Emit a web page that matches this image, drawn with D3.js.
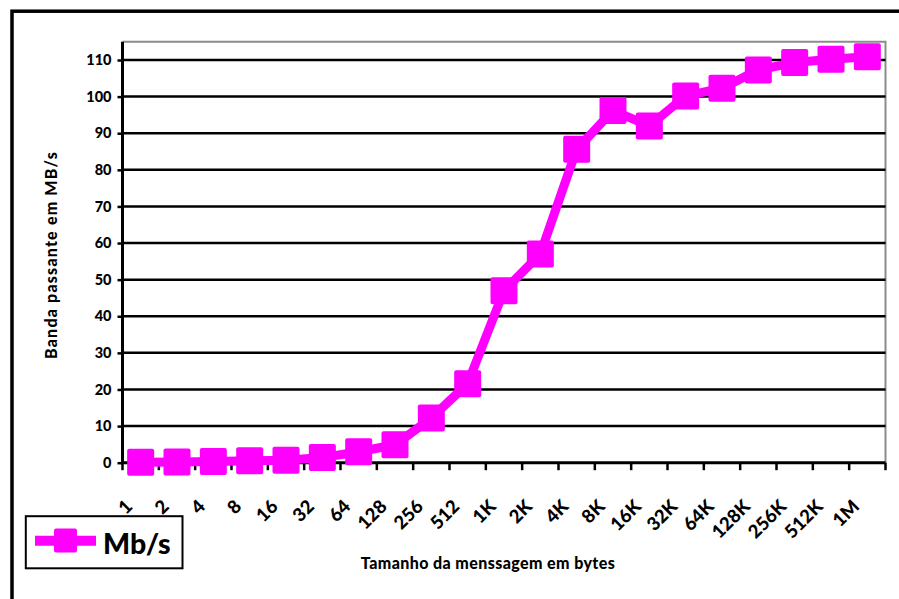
<!DOCTYPE html>
<html>
<head>
<meta charset="utf-8">
<script src="https://cdn.jsdelivr.net/npm/d3@7"></script>
<style>
    body { margin: 0; background: #fff; }
    svg { display: block; font-family: Lato, "Open Sans", sans-serif; font-weight: 900; }
</style>
</head>
<body>
<div id="chart"></div>
<script>
// Message sizes (categories) and measured bandwidth
const sizes = ['1', '2', '4', '8', '16', '32', '64', '128', '256', '512',
    '1K', '2K', '4K', '8K', '16K', '32K', '64K', '128K', '256K', '512K', '1M'];
const mbps = [0.1, 0.2, 0.3, 0.5, 0.7, 1.4, 3.0, 4.9, 12.2, 21.6,
    47.0, 57.0, 85.6, 96.2, 92.0, 100.2, 102.3, 107.3, 109.3, 110.2, 110.9];
const yTicks = [0, 10, 20, 30, 40, 50, 60, 70, 80, 90, 100, 110];
const seriesName = 'Mb/s';

const W = 899, H = 599;
const plot = { left: 122.5, right: 885.5, top: 41.7, bottom: 462.7 };
const magenta = '#ff00ff';

const svg = d3.select('#chart').append('svg')
    .attr('width', W)
    .attr('height', H);

// outer frame (cut off at right and bottom)
svg.append('rect')
    .attr('x', 12).attr('y', 11.2)
    .attr('width', W).attr('height', H)
    .attr('fill', 'none')
    .attr('stroke', '#000')
    .attr('stroke-width', 3.5);

const x = d3.scaleBand()
    .domain(sizes)
    .range([plot.left, plot.right]);

const y = d3.scaleLinear()
    .domain([0, 115])
    .range([plot.bottom, plot.top]);

// plot border (gray, top + right)
svg.append('path')
    .attr('d', `M${plot.left},${plot.top}H${plot.right}V${plot.bottom}`)
    .attr('fill', 'none')
    .attr('stroke', '#8c8c8c')
    .attr('stroke-width', 2);

// gridlines
svg.append('g')
    .selectAll('line')
    .data(yTicks.filter(d => d > 0))
    .join('line')
    .attr('x1', plot.left).attr('x2', plot.right)
    .attr('y1', d => y(d)).attr('y2', d => y(d))
    .attr('stroke', '#000')
    .attr('stroke-width', 2.5);

// y axis
const yAxis = svg.append('g')
    .attr('transform', `translate(${plot.left},0)`)
    .call(d3.axisLeft(y).tickValues(yTicks).tickSize(5).tickPadding(6));
yAxis.select('.domain')
    .attr('d', `M0,${plot.top}V${plot.bottom + 1.5}`)
    .attr('stroke', '#000')
    .attr('stroke-width', 3);
yAxis.selectAll('.tick line').attr('stroke', '#000').attr('stroke-width', 2.5);
yAxis.selectAll('.tick text')
    .attr('font-family', 'Lato, "Open Sans", sans-serif')
    .attr('font-weight', 900)
    .attr('font-size', 14.5)
    .attr('fill', '#000');

// x axis line and ticks at category boundaries
svg.append('line')
    .attr('x1', plot.left - 1.5).attr('x2', plot.right)
    .attr('y1', plot.bottom).attr('y2', plot.bottom)
    .attr('stroke', '#000')
    .attr('stroke-width', 3);

const bounds = sizes.map(d => x(d)).concat([x(sizes[sizes.length - 1]) + x.bandwidth()]);
svg.append('g')
    .selectAll('line')
    .data(bounds)
    .join('line')
    .attr('x1', d => d).attr('x2', d => d)
    .attr('y1', plot.bottom).attr('y2', plot.bottom + 7.5)
    .attr('stroke', '#000')
    .attr('stroke-width', 2.5);

// x tick labels, rotated -45
svg.append('g')
    .selectAll('text')
    .data(sizes)
    .join('text')
    .attr('transform', d => `translate(${x(d) + x.bandwidth() / 2 - 7},${plot.bottom + 45}) rotate(-45)`)
    .attr('text-anchor', 'end')
    .attr('font-size', 18.5)
    .text(d => d);

// axis titles
svg.append('text')
    .attr('transform', `translate(57,255) rotate(-90)`)
    .attr('text-anchor', 'middle')
    .attr('font-size', 16)
    .attr('letter-spacing', 1.2)
    .text('Banda passante em MB/s');

svg.append('text')
    .attr('x', 488)
    .attr('y', 569)
    .attr('text-anchor', 'middle')
    .attr('font-size', 16)
    .attr('letter-spacing', 0.4)
    .text('Tamanho da menssagem em bytes');

// series line
const line = d3.line()
    .x((d, i) => x(sizes[i]) + x.bandwidth() / 2)
    .y(d => y(d));

svg.append('path')
    .datum(mbps)
    .attr('d', line)
    .attr('fill', 'none')
    .attr('stroke', magenta)
    .attr('stroke-width', 9)
    .attr('stroke-linejoin', 'round');

const ms = 27;
svg.append('g')
    .selectAll('rect')
    .data(mbps)
    .join('rect')
    .attr('x', (d, i) => x(sizes[i]) + x.bandwidth() / 2 - ms / 2)
    .attr('y', d => y(d) - ms / 2)
    .attr('width', ms).attr('height', ms)
    .attr('rx', 2)
    .attr('fill', magenta);

// legend
const legend = svg.append('g');
legend.append('rect')
    .attr('x', 25.8).attr('y', 516.2)
    .attr('width', 156.7).attr('height', 52.1)
    .attr('fill', '#fff')
    .attr('stroke', '#000')
    .attr('stroke-width', 2);
legend.append('line')
    .attr('x1', 35).attr('x2', 96)
    .attr('y1', 540.7).attr('y2', 540.7)
    .attr('stroke', magenta)
    .attr('stroke-width', 10);
legend.append('rect')
    .attr('x', 54).attr('y', 528.5)
    .attr('width', 23).attr('height', 24)
    .attr('rx', 2)
    .attr('fill', magenta);
legend.append('text')
    .attr('x', 103)
    .attr('y', 554)
    .attr('font-size', 28.5)
    .text(seriesName);
</script>
</body>
</html>
